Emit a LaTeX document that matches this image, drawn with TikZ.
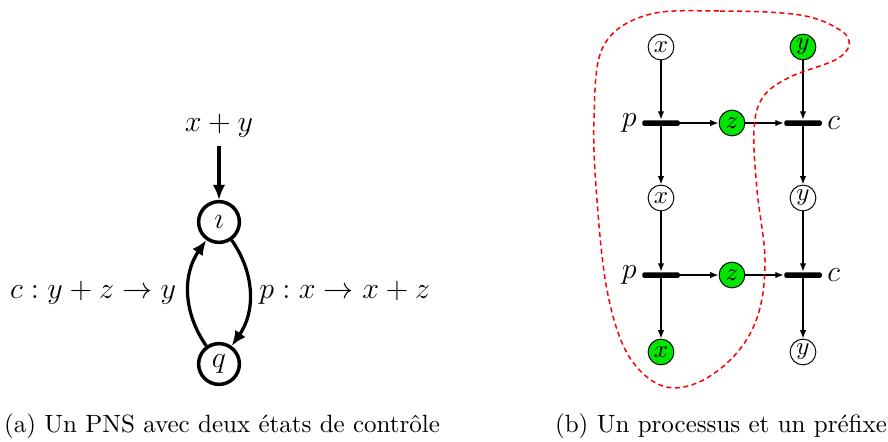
\documentclass[tikz,border=0pt]{standalone}
\usetikzlibrary{positioning,arrows.meta}
\definecolor{vertJeton}{HTML}{00E600}
\definecolor{rougePrefixe}{HTML}{FF0000}
\tikzset{
  etat/.style={circle, draw, line width=1.4pt, minimum size=16.3pt,
    inner sep=0pt, font=\large},
  place/.style={circle, draw, thin, minimum size=10.3pt, inner sep=0pt},
  jeton/.style={place, fill=vertJeton},
  transition/.style={rectangle, fill=black, rounded corners=0.6pt,
    minimum width=15pt, minimum height=2.2pt, inner sep=0pt},
  etiquette/.style={font=\large},
  flecheEtat/.style={-{Latex[length=6pt,width=5pt]}, line width=1.3pt},
  flecheRes/.style={-{Latex[length=3.4pt,width=2.6pt]}, semithick},
  prefixe/.style={draw=rougePrefixe, dash pattern=on 2pt off 1.4pt, semithick},
}

\begin{document}
\begin{tikzpicture}[x=0.4pt, y=-0.4pt]
    \useasboundingbox (0,0) rectangle (888,441);
    % (a) le PNS
    \node[etiquette] (init) at (219,126) {$x+y$};
    \node[etat] (i) at (219,222) {$\imath$};
    \node[etat] (q) at (219,364) {$q$};
    \draw[flecheEtat] (init) -- (i);
    \draw[flecheEtat] (i) to[bend left=35] node[right, etiquette] (lp) {$p : x \rightarrow x+z$} (q);
    \draw[flecheEtat] (q) to[bend left=35] node[left=1pt, etiquette] (lc) {$c : y+z \rightarrow y$} (i);
    % (b) le processus
    \node[place] (x1) at (661,47) {$x$};
    \node[jeton] (y1) at (803,47) {$y$};
    \node[transition] (p1) at (661,123) {};
    \node[jeton] (z1) at (732,123) {$z$};
    \node[transition] (c1) at (803,123) {};
    \node[place] (x2) at (661,198) {$x$};
    \node[place] (y2) at (803,198) {$y$};
    \node[transition] (p2) at (661,275) {};
    \node[jeton] (z2) at (732,275) {$z$};
    \node[transition] (c2) at (803,275) {};
    \node[jeton] (x3) at (661,352) {$x$};
    \node[place] (y3) at (803,352) {$y$};
    \node[etiquette, left=-1.5pt of p1] (lp1) {$p$};
    \node[etiquette, right=-1.5pt of c1] (lc1) {$c$};
    \node[etiquette, left=-1.5pt of p2] (lp2) {$p$};
    \node[etiquette, right=-1.5pt of c2] (lc2) {$c$};
    \foreach \a/\b in {x1/p1, p1/x2, p1/z1, z1/c1, y1/c1, c1/y2,
                       x2/p2, p2/x3, p2/z2, z2/c2, y2/c2, c2/y3}
      \draw[flecheRes] (\a) -- (\b);
    % le prefixe
    \draw[prefixe] plot[smooth cycle, tension=0.6] coordinates {
      (647,15) (720,11) (800,15) (840,30) (849,45) (835,60) (790,77)
      (763,97) (754,130) (757,190) (765,260) (758,315) (735,355)
      (697,383) (660,385) (627,353) (607,290) (597,200) (594,120) (603,47)};
    % legendes
    \node (capa) at (222,426) {(a) Un PNS avec deux états de contrôle};
    \node (capb) at (721,426) {(b) Un processus et un préfixe};
\end{tikzpicture}
\end{document}
